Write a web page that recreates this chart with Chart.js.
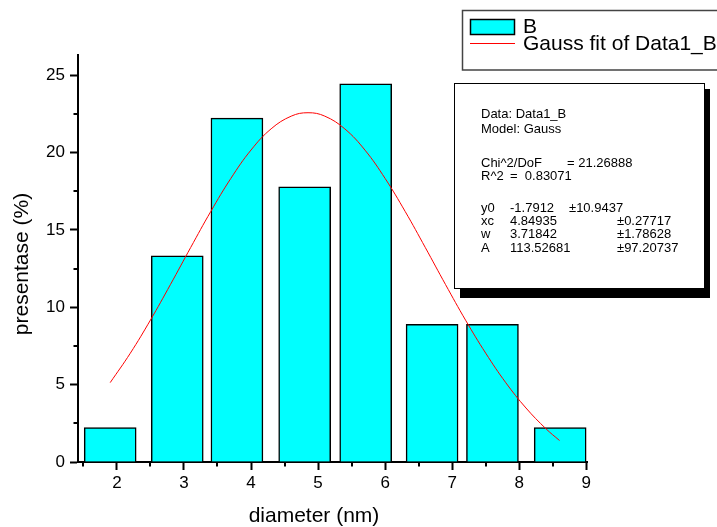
<!DOCTYPE html>
<html><head><meta charset="utf-8">
<script src="https://cdn.jsdelivr.net/npm/chart.js@4/dist/chart.umd.min.js"></script>
<style>html,body{margin:0;padding:0;background:#fff;}#wrap{width:717px;height:527px;}</style>
</head><body><div id="wrap"><canvas id="c" width="717" height="527"></canvas></div>
<script>
// ---- data ----
const binCenters = [1.90, 2.90, 3.79, 4.80, 5.71, 6.70, 7.60, 8.61];
const percentValues = [2.22, 13.33, 22.22, 17.78, 24.44, 8.89, 8.89, 2.22];
const fitX = [1.9, 2.2, 2.5, 2.8, 3.1, 3.4, 3.7, 4.0, 4.3, 4.6, 4.85, 5.1, 5.4, 5.7, 6.0, 6.3, 6.6, 6.9, 7.2, 7.5, 7.8, 8.1, 8.4, 8.6];
const fitY = [5.13, 7.03, 9.17, 11.48, 13.86, 16.19, 18.33, 20.16, 21.53, 22.35, 22.57, 22.35, 21.52, 20.15, 18.32, 16.18, 13.85, 11.47, 9.16, 7.03, 5.12, 3.49, 2.14, 1.39];
const xTickValues = [2, 3, 4, 5, 6, 7, 8, 9];
const xMinorTickValues = [1.5, 2.5, 3.5, 4.5, 5.5, 6.5, 7.5, 8.5];
const yTickValues = [0, 5, 10, 15, 20, 25];
const yMinorTickValues = [2.5, 7.5, 12.5, 17.5, 22.5];
const seriesNames = ['B', 'Gauss fit of Data1_B'];
const xTitle = 'diameter (nm)';
const yTitle = 'presentase (%)';
const reportRows = [
  ['Data: Data1_B'],
  ['Model: Gauss'],
  ['Chi^2/DoF', '= 21.26888'],
  ['R^2', '=  0.83071'],
  ['y0', '-1.7912', '±10.9437'],
  ['xc', '4.84935', '±0.27717'],
  ['w', '3.71842', '±1.78628'],
  ['A', '113.52681', '±97.20737']
];

const FONT = '"Liberation Sans", Arial, sans-serif';

const minorTicks = {
  id: 'minorTicks',
  afterDraw(chart) {
    const {ctx, chartArea, scales} = chart;
    ctx.save();
    ctx.strokeStyle = '#000';
    ctx.lineWidth = 2;
    ctx.beginPath();
    yMinorTickValues.forEach(v => {
      const y = Math.round(scales.y.getPixelForValue(v));
      ctx.moveTo(chartArea.left - 4.5, y);
      ctx.lineTo(chartArea.left, y);
    });
    xMinorTickValues.forEach(v => {
      const x = Math.round(scales.x.getPixelForValue(v));
      ctx.moveTo(x, chartArea.bottom);
      ctx.lineTo(x, chartArea.bottom + 4.5);
    });
    ctx.stroke();
    ctx.restore();
  }
};

const overlays = {
  id: 'overlays',
  afterDraw(chart) {
    const ctx = chart.ctx;
    ctx.save();
    // axis titles
    ctx.fillStyle = '#000';
    ctx.font = '21px ' + FONT;
    ctx.textAlign = 'center';
    ctx.textBaseline = 'middle';
    ctx.fillText(xTitle, 314, 516);
    ctx.save();
    ctx.translate(22, 264);
    ctx.rotate(-Math.PI / 2);
    ctx.fillText(yTitle, 0, 0);
    ctx.restore();

    // fit report box with shadow
    ctx.fillStyle = '#000';
    ctx.fillRect(460, 89, 250, 209);
    ctx.fillStyle = '#fff';
    ctx.fillRect(454, 83, 250, 205);
    ctx.strokeStyle = '#000';
    ctx.lineWidth = 1;
    ctx.strokeRect(454.5, 83.5, 250, 205);
    ctx.fillStyle = '#000';
    ctx.font = '13px ' + FONT;
    ctx.textBaseline = 'middle';
    ctx.textAlign = 'left';
    const rowY = [114, 129, 163, 176, 208, 221, 234.5, 248];
    const colX = [
      [481], [481], [481, 567], [481, 510],
      [481, 510, 569], [481, 510, 617], [481, 510, 617], [481, 510, 617]
    ];
    reportRows.forEach((row, i) => {
      row.forEach((t, j) => ctx.fillText(t, colX[i][j], rowY[i]));
    });

    // legend
    ctx.fillStyle = '#fff';
    ctx.fillRect(462, 10, 260, 60);
    ctx.strokeStyle = '#444';
    ctx.lineWidth = 1.5;
    ctx.beginPath();
    ctx.moveTo(740, 10.5); ctx.lineTo(462.5, 10.5); ctx.lineTo(462.5, 70); ctx.lineTo(740, 70);
    ctx.stroke();
    const bg = chart.data.datasets[0];
    ctx.fillStyle = bg.backgroundColor;
    ctx.fillRect(470, 19, 45, 16);
    ctx.strokeStyle = '#000';
    ctx.lineWidth = 1.5;
    ctx.strokeRect(470.5, 19.5, 44, 15);
    ctx.strokeStyle = chart.data.datasets[1].borderColor;
    ctx.lineWidth = 1;
    ctx.beginPath(); ctx.moveTo(470, 43.5); ctx.lineTo(515, 43.5); ctx.stroke();
    ctx.fillStyle = '#000';
    ctx.font = '21px ' + FONT;
    ctx.fillText(seriesNames[0], 523, 27.5);
    ctx.fillText(seriesNames[1], 523, 44);
    ctx.restore();
  }
};

new Chart(document.getElementById('c'), {
  type: 'bar',
  data: {
    datasets: [
      {
        type: 'bar',
        label: seriesNames[0],
        data: binCenters.map((c, i) => ({x: c, y: percentValues[i]})),
        backgroundColor: '#00FFFF',
        borderColor: '#000',
        borderWidth: 1.5,
        barThickness: 52,
        order: 2
      },
      {
        type: 'line',
        label: seriesNames[1],
        data: fitX.map((x, i) => ({x: x, y: fitY[i]})),
        borderColor: '#FF0000',
        borderWidth: 1,
        pointRadius: 0,
        tension: 0.4,
        fill: false,
        order: 1
      }
    ]
  },
  options: {
    responsive: false,
    animation: false,
    devicePixelRatio: 1,
    layout: {padding: {left: 0, right: 130, top: 55, bottom: 0}},
    plugins: {legend: {display: false}, tooltip: {enabled: false}},
    scales: {
      x: {
        type: 'linear',
        min: 1.42, max: 9.01,
        offset: false,
        afterBuildTicks: s => { s.ticks = xTickValues.map(v => ({value: v})); },
        afterFit: s => { s.height = 65; },
        grid: {offset: false, drawOnChartArea: false, drawTicks: true, tickLength: 8, tickWidth: 2, tickColor: '#000', color: '#000'},
        border: {display: true, color: '#000', width: 2},
        ticks: {color: '#000', font: {family: FONT, size: 17}, padding: 3, maxRotation: 0},
        title: {display: false}
      },
      y: {
        type: 'linear',
        min: 0, max: 26.3,
        afterBuildTicks: s => { s.ticks = yTickValues.map(v => ({value: v})); },
        afterFit: s => { s.width = 78; },
        grid: {drawOnChartArea: false, drawTicks: true, tickLength: 8, tickWidth: 2, tickColor: '#000', color: '#000'},
        border: {display: true, color: '#000', width: 2},
        ticks: {color: '#000', font: {family: FONT, size: 17}, padding: 5},
        title: {display: false}
      }
    }
  },
  plugins: [minorTicks, overlays]
});
</script></body></html>
